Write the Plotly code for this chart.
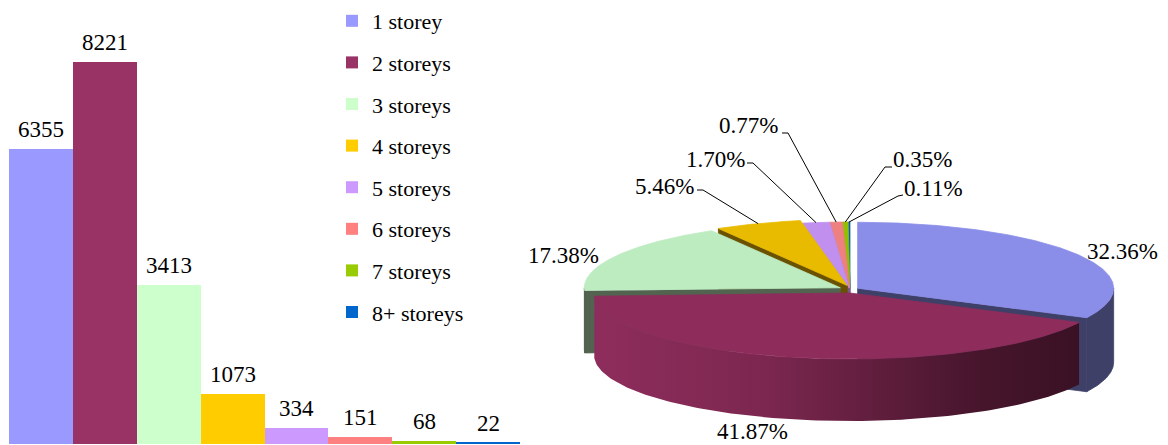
import numpy as np
import plotly.graph_objects as go

# Buildings by number of storeys
categories = ["1 storey", "2 storeys", "3 storeys", "4 storeys",
              "5 storeys", "6 storeys", "7 storeys", "8+ storeys"]
buildings = [6355, 8221, 3413, 1073, 334, 151, 68, 22]

bar_colors = ["#9999FF", "#993366", "#CCFFCC", "#FFCC00",
              "#CC99FF", "#FF8080", "#99CC00", "#0066CC"]
top_colors = ["#8B8EE8", "#8E2D5C", "#BDECC0", "#E9BB00",
              "#C190EE", "#EE8080", "#92C000", "#0A5EC4"]
side_colors = ["#3E4068", "#6A2245", "#52634F", "#6A5200",
               "#7A5598", "#9A4E4E", "#5A7800", "#083E80"]

FONT = "Liberation Serif"
W, H = 1168, 445

fig = go.Figure()

# ---- bar chart ----
for name, val, col in zip(categories, buildings, bar_colors):
    fig.add_trace(go.Bar(
        x=[name], y=[val], name=name, legendgroup=name,
        marker=dict(color=col, line=dict(width=0)),
        hoverinfo="x+y", xaxis="x", yaxis="y",
    ))
    fig.add_annotation(x=name, y=val, xref="x", yref="y", text=str(val),
                       showarrow=False, yanchor="bottom", yshift=5,
                       font=dict(family=FONT, size=23, color="black"))

# ---- 3D-style elliptical pie ----
CX, CY = 850.0, 293.0      # centre of the top face
RX, RY = 256.0, 66.0       # ellipse radii of the top face
PULL = [9, 0, 11, 8, 5, 5, 5, 5]
DEPTH = [74, 62, 62, 62, 62, 62, 62, 62]

total = float(sum(buildings))
shares = [v / total for v in buildings]
edges = np.concatenate([[0.0], np.cumsum(shares)]) * 360.0

# percentages to two decimals, rounded so that they add up to exactly 100
hundredths = [v / total * 10000 for v in buildings]
floors = [int(np.floor(h)) for h in hundredths]
short = 10000 - sum(floors)
for k in sorted(range(len(buildings)), key=lambda k: -(hundredths[k] - floors[k]))[:short]:
    floors[k] += 1
pct = [f"{f / 100:.2f}%" for f in floors]


def rim(cx, cy, deg):
    t = np.radians(deg)
    return cx + RX * np.sin(t), cy - RY * np.cos(t)


def poly(xs, ys, color, gradient=None):
    kw = dict(fillcolor=color)
    if gradient is not None:
        kw = dict(fillgradient=dict(type="horizontal", colorscale=gradient))
    fig.add_trace(go.Scatter(
        x=list(xs), y=list(ys), mode="lines", fill="toself",
        line=dict(width=0.8 if gradient is None else 0, color=color),
        hoverinfo="skip", showlegend=False, xaxis="x2", yaxis="y2", **kw))


slices = []
for i in range(len(buildings)):
    a0, a1 = edges[i], edges[i + 1]
    mid = np.radians((a0 + a1) / 2)
    cx = CX + PULL[i] * np.sin(mid)
    cy = CY - PULL[i] * np.cos(mid)
    slices.append((i, a0, a1, cx, cy, np.cos(mid)))

maroon_grad = [[0, "#8E2D5D"], [0.35, "#7C274F"], [0.8, "#46152C"], [1, "#3A1124"]]

# paint from the back of the pie to the front
for i, a0, a1, cx, cy, c in sorted(slices, key=lambda s: -s[5]):
    d = DEPTH[i]
    # radial faces facing the viewer
    for ang, visible in ((a0, np.sin(np.radians(a0)) < -1e-9),
                         (a1, np.sin(np.radians(a1)) > 1e-9)):
        if visible:
            rx_, ry_ = rim(cx, cy, ang)
            poly([cx, rx_, rx_, cx, cx], [cy, ry_, ry_ + d, cy + d, cy], side_colors[i])
    # outer wall on the front half
    lo, hi = max(a0, 90.0), min(a1, 270.0)
    if hi > lo:
        ang = np.linspace(lo, hi, 120)
        xs, ys = rim(cx, cy, ang)
        wx = np.concatenate([xs, xs[::-1], xs[:1]])
        wy = np.concatenate([ys, (ys + d)[::-1], ys[:1]])
        if i == 1:
            poly(wx, wy, side_colors[i], gradient=maroon_grad)
        else:
            poly(wx, wy, side_colors[i])
    # top face
    ang = np.linspace(a0, a1, max(int((a1 - a0) * 2), 4))
    xs, ys = rim(cx, cy, ang)
    poly(np.concatenate([[cx], xs, [cx]]), np.concatenate([[cy], ys, [cy]]), top_colors[i])

# percentage labels
label_pos = [(1122, 251), (752, 431), (563, 255), (664, 186),
             (715, 159), (748, 125), (922, 159), (933, 188)]
leader_elbows = {3: [(697, 190), (703, 190)], 4: [(747, 163), (753, 163)],
                 5: [(782, 133), (788, 133)], 6: [(892, 167), (885, 167)],
                 7: [(903, 195), (898, 196)]}

for i, a0, a1, cx, cy, c in slices:
    if i in leader_elbows:
        ex, ey = rim(cx, cy, (a0 + a1) / 2)
        pts = leader_elbows[i] + [(ex, ey)]
        fig.add_trace(go.Scatter(
            x=[p[0] for p in pts], y=[p[1] for p in pts], mode="lines",
            line=dict(color="black", width=1), hoverinfo="skip",
            showlegend=False, xaxis="x2", yaxis="y2"))
    fig.add_annotation(x=label_pos[i][0], y=label_pos[i][1], xref="x2", yref="y2",
                       text=pct[i], showarrow=False,
                       font=dict(family=FONT, size=23, color="black"))

fig.update_layout(
    width=W, height=H, margin=dict(l=0, r=0, t=0, b=0),
    paper_bgcolor="white", plot_bgcolor="rgba(0,0,0,0)",
    barmode="overlay", bargap=0,
    xaxis=dict(domain=[9 / W, 520 / W], visible=False, type="category"),
    yaxis=dict(domain=[1 / H, 1], range=[0, 9555], visible=False),
    xaxis2=dict(domain=[0, 1], range=[0, W], visible=False, anchor="y2"),
    yaxis2=dict(domain=[0, 1], range=[H, 0], visible=False, anchor="x2"),
    showlegend=True,
    legend=dict(x=332 / W, y=1.0, xanchor="left", yanchor="top",
                traceorder="grouped", tracegroupgap=10, itemwidth=30,
                font=dict(family=FONT, size=22, color="black"),
                bgcolor="rgba(0,0,0,0)"),
)

fig.write_html("out.html")
